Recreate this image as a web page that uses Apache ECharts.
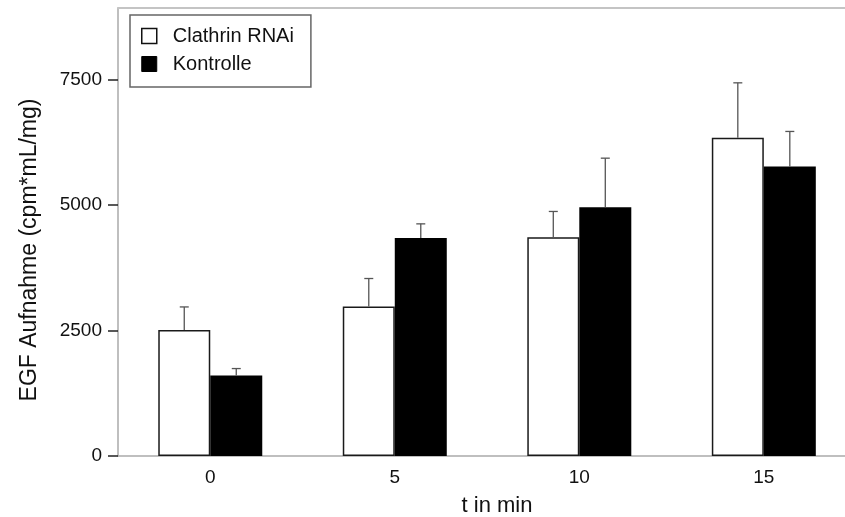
<!DOCTYPE html>
<html>
<head>
<meta charset="utf-8">
<script src="https://cdn.jsdelivr.net/npm/echarts@6/dist/echarts.min.js"></script>
<style>
html,body{margin:0;padding:0;background:#fff;}
#chart{width:845px;height:517px;}
</style>
</head>
<body>
<div id="chart"></div>
<script>
// ---- data ----
const categories = ['0', '5', '10', '15'];
const clathrinMean = [2510, 2976, 4357, 6335];
const clathrinErr = [458, 558, 512, 1095];
const kontrolleMean = [1602, 4343, 4954, 5765];
const kontrolleErr = [139, 279, 976, 697];
const yTicks = [0, 2500, 5000, 7500];
const seriesNames = ['Clathrin RNAi', 'Kontrolle'];

// ---- chart ----
const FONT = '"Liberation Sans", Arial, Helvetica, sans-serif';
const BAR_W = 52;
const catIdx = categories.map((c, i) => i);

function barData(means) {
  return means.map((m, i) => [i, m]);
}
function errData(means, errs) {
  return means.map((m, i) => [i, m, m + errs[i]]);
}
function errRender(side) {
  return function (params, api) {
    const x = api.value(0);
    const p0 = api.coord([x, api.value(1)]);
    const p1 = api.coord([x, api.value(2)]);
    const cx = p0[0] + side * BAR_W / 2;
    const style = { stroke: '#555', lineWidth: 1.3 };
    return {
      type: 'group',
      children: [
        { type: 'line', shape: { x1: cx, y1: p0[1], x2: cx, y2: p1[1] }, style: style },
        { type: 'line', shape: { x1: cx - 4.5, y1: p1[1], x2: cx + 4.5, y2: p1[1] }, style: style }
      ]
    };
  };
}

const chart = echarts.init(document.getElementById('chart'), null, { renderer: 'canvas' });
chart.setOption({
  animation: false,
  backgroundColor: '#fff',
  textStyle: { fontFamily: FONT },
  grid: {
    left: 118, right: 0, top: 8, bottom: 61,
    outerBoundsMode: 'none',
    show: false
  },
  legend: {
    data: [
      { name: seriesNames[0], itemStyle: { color: '#fff', borderColor: '#111', borderWidth: 1.5 } },
      { name: seriesNames[1], itemStyle: { color: '#000', borderColor: '#000', borderWidth: 1 } }
    ],
    orient: 'vertical',
    left: 130, top: 15,
    padding: [11, 17, 13, 11],
    itemWidth: 15, itemHeight: 15, itemGap: 8,
    icon: 'rect',
    borderColor: '#666', borderWidth: 1.5,
    backgroundColor: '#fff',
    textStyle: { fontFamily: FONT, fontSize: 20, color: '#111', lineHeight: 20, padding: [0, 0, 0, 11] }
  },
  xAxis: [
    {
      type: 'value',
      min: -0.5, max: 3.44,
      name: 't in min',
      nameLocation: 'middle',
      nameGap: 39,
      nameTextStyle: { fontFamily: FONT, fontSize: 22, color: '#111', padding: [0, 0, 0, 31] },
      axisLine: { show: true, onZero: false, lineStyle: { color: '#aaa', width: 1.5 } },
      axisTick: { show: false },
      axisLabel: {
        fontFamily: FONT, fontSize: 19, color: '#111', margin: 12,
        customValues: catIdx,
        formatter: function (v) { return categories[Math.round(v)]; }
      },
      splitLine: { show: false }
    },
    {
      type: 'value',
      position: 'top',
      min: -0.5, max: 3.44,
      axisLine: { show: true, onZero: false, lineStyle: { color: '#c4c4c4', width: 2 } },
      axisTick: { show: false },
      axisLabel: { show: false },
      splitLine: { show: false }
    }
  ],
  yAxis: {
    type: 'value',
    min: 0, max: 8920,
    name: 'EGF Aufnahme (cpm*mL/mg)',
    nameLocation: 'middle',
    nameGap: 77,
    nameTextStyle: { fontFamily: FONT, fontSize: 23, color: '#111', padding: [0, 36, 0, 0] },
    axisLine: { show: true, onZero: false, lineStyle: { color: '#aaa', width: 1.5 } },
    axisTick: { show: true, length: 10, customValues: yTicks, lineStyle: { color: '#222', width: 1.5 } },
    axisLabel: { fontFamily: FONT, fontSize: 19, color: '#111', margin: 16, customValues: yTicks,
      formatter: function (v) { return String(v); } },
    splitLine: { show: false }
  },
  series: [
    {
      name: seriesNames[0], type: 'bar', data: barData(clathrinMean),
      barWidth: BAR_W, barGap: '0%',
      itemStyle: { color: '#fff', borderColor: '#1a1a1a', borderWidth: 1.5 }
    },
    {
      name: seriesNames[1], type: 'bar', data: barData(kontrolleMean),
      barWidth: BAR_W, barGap: '0%',
      itemStyle: { color: '#000', borderColor: '#000', borderWidth: 0 }
    },
    {
      name: 'err1', type: 'custom', data: errData(clathrinMean, clathrinErr),
      renderItem: errRender(-1), z: 5, silent: true,
      encode: { x: 0, y: [1, 2] }
    },
    {
      name: 'err2', type: 'custom', data: errData(kontrolleMean, kontrolleErr),
      renderItem: errRender(1), z: 5, silent: true,
      encode: { x: 0, y: [1, 2] }
    }
  ]
});
</script>
</body>
</html>
